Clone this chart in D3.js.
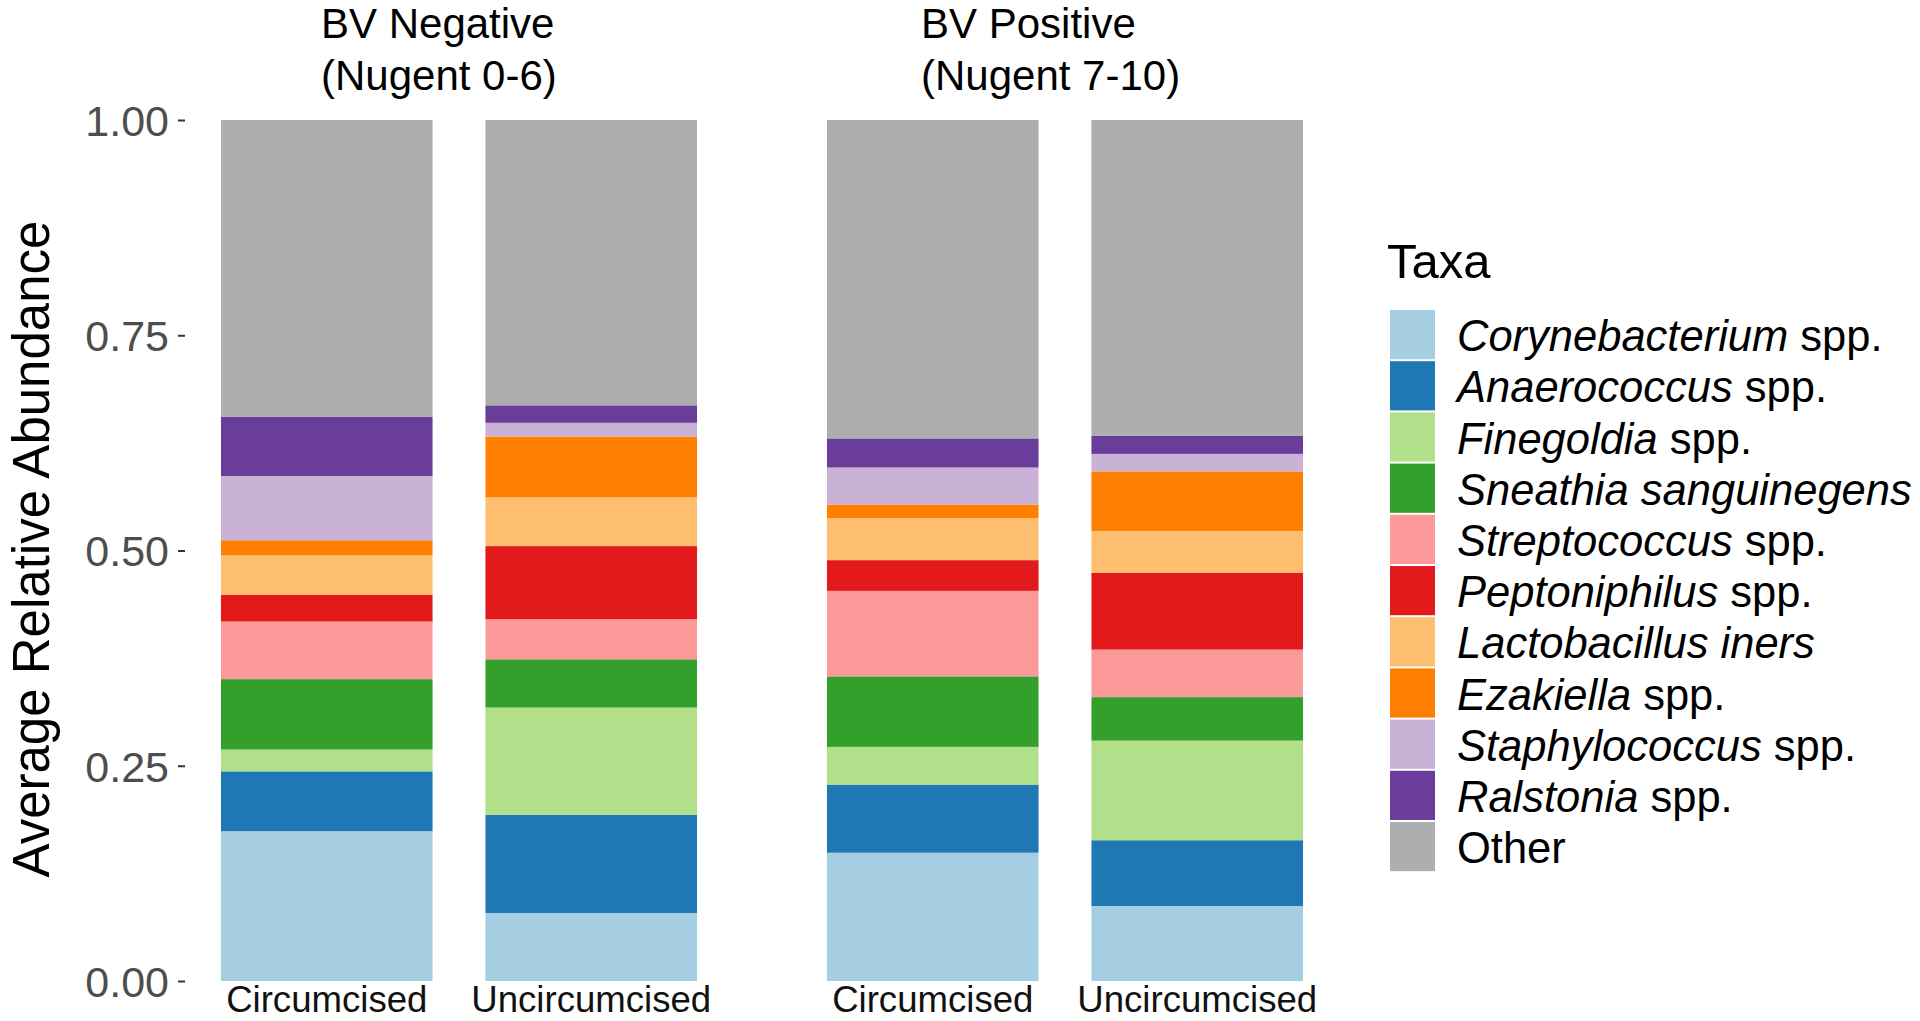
<!DOCTYPE html>
<html>
<head>
<meta charset="utf-8">
<script src="https://cdn.jsdelivr.net/npm/d3@7"></script>
<style>
  html, body { margin: 0; padding: 0; background: #fff; }
  svg { display: block; font-family: "Liberation Sans", Arial, sans-serif; }
</style>
</head>
<body>
<svg id="chart" width="1920" height="1021"></svg>
<script>
// ---- data ----
const groups = ["BV Negative\n(Nugent 0-6)", "BV Positive\n(Nugent 7-10)"];
const categories = ["Circumcised", "Uncircumcised"];
const taxa = ["Corynebacterium spp.", "Anaerococcus spp.", "Finegoldia spp.", "Sneathia sanguinegens",
  "Streptococcus spp.", "Peptoniphilus spp.", "Lactobacillus iners", "Ezakiella spp.",
  "Staphylococcus spp.", "Ralstonia spp.", "Other"];
const taxaItalic = ["Corynebacterium", "Anaerococcus", "Finegoldia", "Sneathia sanguinegens",
  "Streptococcus", "Peptoniphilus", "Lactobacillus iners", "Ezakiella",
  "Staphylococcus", "Ralstonia", ""];
const taxaPlain = [" spp.", " spp.", " spp.", "", " spp.", " spp.", "", " spp.", " spp.", " spp.", "Other"];
const colors = ["#A6CEE3", "#1F78B4", "#B2DF8A", "#33A02C", "#FB9A99", "#E31A1C",
  "#FDBF6F", "#FF7F00", "#CAB2D6", "#6A3D9A", "#AEAEAE"];
// values in taxa order, bottom to top
const negCircumcised   = [0.174, 0.0695, 0.0253, 0.0818, 0.0669, 0.0308, 0.046, 0.0176, 0.0746, 0.0686, 0.3449];
const negUncircumcised = [0.079, 0.1139, 0.1247, 0.056, 0.0465, 0.085, 0.0565, 0.0709, 0.0158, 0.0203, 0.3314];
const posCircumcised   = [0.149, 0.0791, 0.0438, 0.0819, 0.0993, 0.0357, 0.0488, 0.0158, 0.043, 0.0338, 0.3698];
const posUncircumcised = [0.0871, 0.0764, 0.1157, 0.0505, 0.0552, 0.0894, 0.0484, 0.0692, 0.0203, 0.0212, 0.3666];
const yTicks = [0, 0.25, 0.5, 0.75, 1];

const panelValues = [
  [negCircumcised, negUncircumcised],
  [posCircumcised, posUncircumcised]
];

// ---- layout ----
const svg = d3.select("#chart");
const y = d3.scaleLinear().domain([0, 1]).range([981, 120]);
const panelRanges = [[185, 733], [791, 1339]];
const stripOffsets = [136, 130];
const color = d3.scaleOrdinal().domain(taxa).range(colors);

groups.forEach((g, gi) => {
  const x = d3.scaleBand().domain(categories).range(panelRanges[gi])
    .paddingInner(0.2).paddingOuter(0.136);
  const rows = categories.map((c, ci) => {
    const r = { cat: c };
    taxa.forEach((t, ti) => r[t] = panelValues[gi][ci][ti]);
    return r;
  });
  const series = d3.stack().keys(taxa)(rows);
  const panel = svg.append("g");
  panel.selectAll("g.layer").data(series).join("g")
    .attr("class", "layer")
    .attr("fill", d => color(d.key))
    .selectAll("rect").data(d => d).join("rect")
    .attr("x", d => x(d.data.cat))
    .attr("width", x.bandwidth())
    .attr("y", d => y(d[1]))
    .attr("height", d => y(d[0]) - y(d[1]));

  // x axis
  const xa = svg.append("g").attr("transform", `translate(0,${y(0)})`)
    .call(d3.axisBottom(x).tickSize(0));
  xa.select(".domain").remove();
  xa.selectAll("text").attr("y", 31).attr("dy", 0)
    .attr("font-size", 36.6).attr("fill", "#111").attr("font-family", null);

  // strip label
  const lines = g.split("\n");
  const st = svg.append("text")
    .attr("x", panelRanges[gi][0] + stripOffsets[gi])
    .attr("font-size", 42).attr("fill", "#000");
  lines.forEach((l, li) => {
    st.append("tspan").attr("x", panelRanges[gi][0] + stripOffsets[gi])
      .attr("y", 38 + li * 52).text(l);
  });
});

// y axis
const ya = svg.append("g").attr("transform", `translate(185,0)`)
  .call(d3.axisLeft(y).tickValues(yTicks).tickFormat(d3.format(".2f")).tickSize(7).tickPadding(9));
ya.select(".domain").remove();
ya.selectAll(".tick line").attr("stroke", "#333").attr("stroke-width", 2);
ya.selectAll("text").attr("font-size", 43).attr("fill", "#4D4D4D")
  .attr("font-family", null).attr("dy", "0.36em");

// y title
svg.append("text")
  .attr("transform", "translate(49,549) rotate(-90)")
  .attr("text-anchor", "middle")
  .attr("font-size", 51).attr("fill", "#000")
  .text("Average Relative Abundance");

// legend
const leg = svg.append("g");
leg.append("text").attr("x", 1387).attr("y", 278).attr("font-size", 49).attr("fill", "#000").text("Taxa");
const keyTop = 309, keyH = 51.2;
taxa.forEach((t, i) => {
  const ky = keyTop + i * keyH;
  leg.append("rect").attr("x", 1390).attr("y", ky + 1).attr("width", 45).attr("height", keyH - 2)
    .attr("fill", color(t));
  const tx = leg.append("text").attr("x", 1457).attr("y", ky + keyH / 2).attr("dy", "0.38em")
    .attr("font-size", 43.5).attr("fill", "#000");
  if (taxaItalic[i]) tx.append("tspan").attr("font-style", "italic").text(taxaItalic[i]);
  if (taxaPlain[i]) tx.append("tspan").text(taxaPlain[i]);
});
</script>
</body>
</html>
